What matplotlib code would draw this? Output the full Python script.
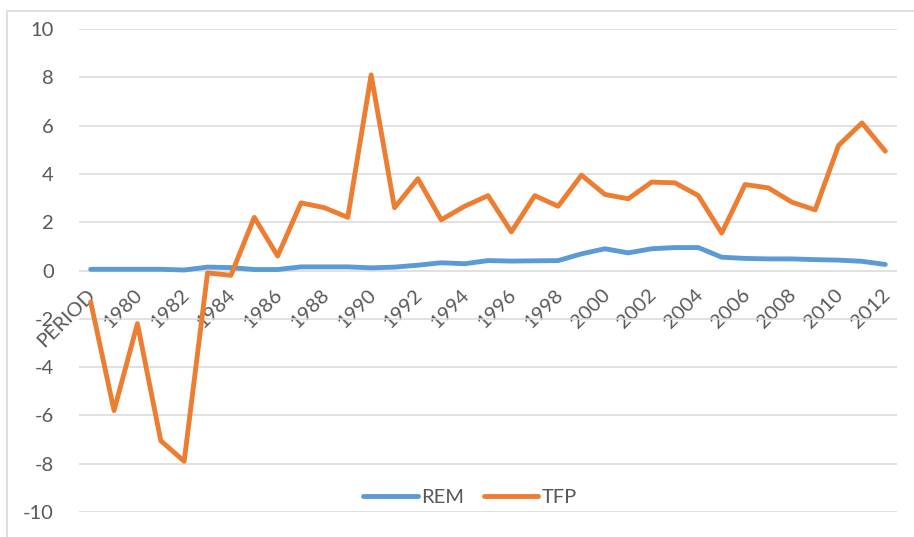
import matplotlib.pyplot as plt
import matplotlib.transforms as mtransforms
import numpy as np
from matplotlib.patches import Rectangle

# categorias (eixo x)
periods = ["PERIOD"] + [str(y) for y in range(1979, 2013)]

# séries
rem = [0.05, 0.05, 0.05, 0.05, 0.02, 0.14, 0.12, 0.04, 0.04, 0.15,
       0.15, 0.15, 0.11, 0.14, 0.22, 0.32, 0.28, 0.41, 0.39, 0.40,
       0.41, 0.69, 0.90, 0.73, 0.90, 0.95, 0.95, 0.55, 0.50, 0.48,
       0.48, 0.45, 0.43, 0.38, 0.25]
tfp = [-1.3, -5.8, -2.2, -7.05, -7.9, -0.1, -0.2, 2.2, 0.6, 2.8,
       2.6, 2.2, 8.1, 2.6, 3.8, 2.1, 2.66, 3.1, 1.6, 3.1,
       2.66, 3.95, 3.15, 2.97, 3.66, 3.63, 3.1, 1.55, 3.56, 3.42,
       2.83, 2.51, 5.18, 6.11, 4.94]

plt.rcParams['font.family'] = ['Lato', 'DejaVu Sans']
plt.rcParams['axes.unicode_minus'] = False
gray = '#595959'

fig = plt.figure(figsize=(9.14, 5.37), dpi=100)
ax = fig.add_axes([79 / 914, 1 - 512 / 537, (897 - 79) / 914, (512 - 29) / 537])

# borda da área do gráfico
fig.patches.append(Rectangle((7 / 914, -0.1), 1.2, 1.1 - 11 / 537,
                             transform=fig.transFigure, fill=False,
                             edgecolor='#D9D9D9', linewidth=1.2))

x = np.arange(len(periods))
ax.plot(x, rem, color='#5B9BD5', lw=3.5, solid_capstyle='round',
        solid_joinstyle='round', label='REM', zorder=3)
ax.plot(x, tfp, color='#ED7D31', lw=3.5, solid_capstyle='round',
        solid_joinstyle='round', label='TFP', zorder=3)

ax.set_xlim(-0.5, len(periods) - 0.5)
ax.set_ylim(-10, 10)
ax.set_yticks(np.arange(-10, 11, 2))
ax.grid(axis='y', color='#D9D9D9', lw=1.1)
ax.set_axisbelow(True)

for s in ['top', 'right', 'left']:
    ax.spines[s].set_visible(False)
ax.spines['bottom'].set_position(('data', 0))
ax.spines['bottom'].set_visible(False)

ax.set_xticks(x[::2])
ax.set_xticklabels(periods[::2], rotation=45, ha='right', va='top',
                   rotation_mode='anchor')
ax.tick_params(axis='x', length=0, pad=11, labelsize=14.5, labelcolor=gray)
ax.tick_params(axis='y', length=0, pad=18, labelsize=14.5, labelcolor=gray)

# desloca um pouco os rótulos do eixo x para a esquerda
shift = mtransforms.ScaledTranslation(-4 / 100, 0, fig.dpi_scale_trans)
for lbl in ax.get_xticklabels():
    lbl.set_transform(lbl.get_transform() + shift)

ax.legend(loc='center', bbox_to_anchor=(470 / 914, 1 - 497 / 537),
          bbox_transform=fig.transFigure, ncol=2, frameon=False,
          fontsize=14.5, labelcolor=gray, handlelength=2.7,
          handletextpad=0.15, columnspacing=1.0)

plt.savefig('out.png')
